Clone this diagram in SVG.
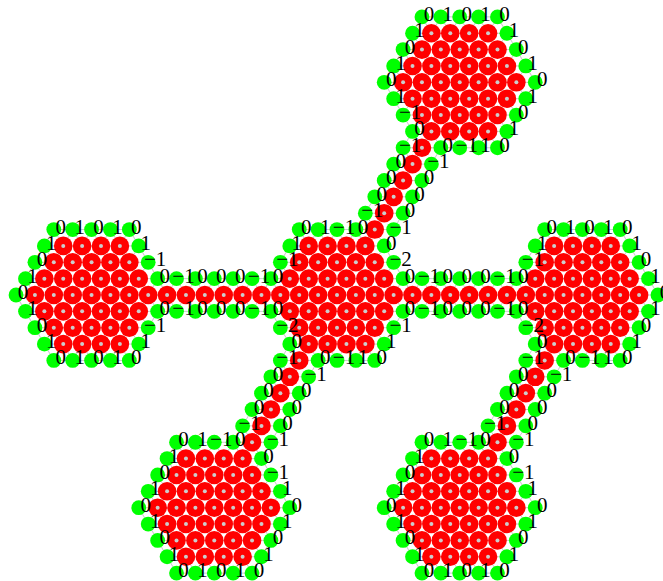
<svg xmlns="http://www.w3.org/2000/svg" width="663" height="581" viewBox="0 0 663 581">
<style>
.b{fill:none;stroke:#ccc;stroke-width:1}
.g{fill:#0f0}
.r{fill:#f00}
.c{fill:#ccc}
text{font-family:"Liberation Serif","Times New Roman",serif;font-size:21px;fill:#000;text-anchor:middle}
</style>
<defs>
<g id="a"><circle class="r" r="9.3"/><circle class="c" r="2"/></g>
<circle id="e" class="g" r="7.4"/>
<path id="hl" class="b" d="M-75.52 0H75.52M-66.08 -16.36H66.08M-66.08 16.36H66.08M-56.64 -32.72H56.64M-56.64 32.72H56.64M-47.2 -49.08H47.2M-47.2 49.08H47.2M-37.76 -65.44H37.76M-37.76 65.44H37.76"/>
<g id="hb"><use href="#hl"/><use href="#hl" transform="rotate(60)"/><use href="#hl" transform="rotate(120)"/></g>
<path id="rhb" class="b" d="M56.64 0H188.8M66.08 -16.36H179.36M66.08 16.36H179.36M66.08 -16.36L75.52 0L84.96 -16.36L94.4 0L103.84 -16.36L113.28 0L122.72 -16.36L132.16 0L141.6 -16.36L151.04 0L160.48 -16.36L169.92 0L179.36 -16.36M66.08 16.36L75.52 0L84.96 16.36L94.4 0L103.84 16.36L113.28 0L122.72 16.36L132.16 0L141.6 16.36L151.04 0L160.48 16.36L169.92 0L179.36 16.36"/>
<path id="rdb" class="b" d="M-28.32 49.08L-94.4 163.56M-47.2 49.08L-103.84 147.24M-18.88 65.44L-75.52 163.56M-56.64 65.44H-18.88M-66.08 81.8H-28.32M-75.52 98.16H-37.76M-84.96 114.52H-47.2M-94.4 130.88H-56.64M-103.84 147.24H-66.08M-56.64 65.44L-47.2 81.8L-37.76 65.44M-66.08 81.8L-56.64 98.16L-47.2 81.8M-75.52 98.16L-66.08 114.52L-56.64 98.16M-84.96 114.52L-75.52 130.88L-66.08 114.52M-94.4 130.88L-84.96 147.24L-75.52 130.88M-103.84 147.24L-94.4 163.56L-84.96 147.24"/>
<g id="reds">
<use href="#a" x="-9.44" y="-49.08"/><use href="#a" x="9.44" y="-49.08"/><use href="#a" x="-28.32" y="-49.08"/><use href="#a" x="28.32" y="-49.08"/>
<use href="#a" x="0" y="-32.72"/><use href="#a" x="-18.88" y="-32.72"/><use href="#a" x="18.88" y="-32.72"/><use href="#a" x="-37.76" y="-32.72"/><use href="#a" x="37.76" y="-32.72"/>
<use href="#a" x="-9.44" y="-16.36"/><use href="#a" x="9.44" y="-16.36"/><use href="#a" x="-28.32" y="-16.36"/><use href="#a" x="28.32" y="-16.36"/><use href="#a" x="-47.2" y="-16.36"/><use href="#a" x="47.2" y="-16.36"/>
<use href="#a" x="0" y="0"/><use href="#a" x="-18.88" y="0"/><use href="#a" x="18.88" y="0"/><use href="#a" x="-37.76" y="0"/><use href="#a" x="37.76" y="0"/><use href="#a" x="-56.64" y="0"/><use href="#a" x="56.64" y="0"/>
<use href="#a" x="-9.44" y="16.36"/><use href="#a" x="9.44" y="16.36"/><use href="#a" x="-28.32" y="16.36"/><use href="#a" x="28.32" y="16.36"/><use href="#a" x="-47.2" y="16.36"/><use href="#a" x="47.2" y="16.36"/>
<use href="#a" x="0" y="32.72"/><use href="#a" x="-18.88" y="32.72"/><use href="#a" x="18.88" y="32.72"/><use href="#a" x="-37.76" y="32.72"/><use href="#a" x="37.76" y="32.72"/>
<use href="#a" x="-9.44" y="49.08"/><use href="#a" x="9.44" y="49.08"/><use href="#a" x="-28.32" y="49.08"/><use href="#a" x="28.32" y="49.08"/>
</g>
<g id="greens">
<use href="#e" x="-37.76" y="-65.44"/><use href="#e" x="-18.88" y="-65.44"/><use href="#e" x="0" y="-65.44"/><use href="#e" x="18.88" y="-65.44"/>
<use href="#e" x="-47.2" y="-49.08"/><use href="#e" x="47.2" y="-49.08"/>
<use href="#e" x="-56.64" y="-32.72"/><use href="#e" x="56.64" y="-32.72"/>
<use href="#e" x="-66.08" y="-16.36"/><use href="#e" x="66.08" y="-16.36"/>
<use href="#e" x="-66.08" y="16.36"/><use href="#e" x="66.08" y="16.36"/>
<use href="#e" x="-56.64" y="32.72"/><use href="#e" x="56.64" y="32.72"/>
<use href="#e" x="-47.2" y="49.08"/><use href="#e" x="47.2" y="49.08"/>
<use href="#e" x="-18.88" y="65.44"/><use href="#e" x="0" y="65.44"/><use href="#e" x="18.88" y="65.44"/><use href="#e" x="37.76" y="65.44"/>
</g>
<g id="rh">
<use href="#a" x="75.52"/><use href="#a" x="94.4"/><use href="#a" x="113.28"/><use href="#a" x="132.16"/><use href="#a" x="151.04"/><use href="#a" x="169.92"/>
<use href="#e" x="84.96" y="-16.36"/><use href="#e" x="103.84" y="-16.36"/><use href="#e" x="122.72" y="-16.36"/><use href="#e" x="141.6" y="-16.36"/><use href="#e" x="160.48" y="-16.36"/>
<use href="#e" x="84.96" y="16.36"/><use href="#e" x="103.84" y="16.36"/><use href="#e" x="122.72" y="16.36"/><use href="#e" x="141.6" y="16.36"/><use href="#e" x="160.48" y="16.36"/>
</g>
<g id="rd">
<use href="#a" x="-37.76" y="65.44"/><use href="#a" x="-47.2" y="81.8"/><use href="#a" x="-56.64" y="98.16"/><use href="#a" x="-66.08" y="114.52"/><use href="#a" x="-75.52" y="130.88"/><use href="#a" x="-84.96" y="147.24"/>
<use href="#e" x="-56.64" y="65.44"/><use href="#e" x="-66.08" y="81.8"/><use href="#e" x="-75.52" y="98.16"/><use href="#e" x="-84.96" y="114.52"/><use href="#e" x="-94.4" y="130.88"/>
<use href="#e" x="-28.32" y="81.8"/><use href="#e" x="-37.76" y="98.16"/><use href="#e" x="-47.2" y="114.52"/><use href="#e" x="-56.64" y="130.88"/><use href="#e" x="-66.08" y="147.24"/>
</g>
</defs>
<rect width="663" height="581" fill="#fff"/>
<g id="connectors">
<use href="#hb" transform="translate(91.56 295)"/>
<use href="#hb" transform="translate(337 295)"/>
<use href="#hb" transform="translate(582.44 295)"/>
<use href="#hb" transform="translate(459.72 82.32)"/>
<use href="#hb" transform="translate(214.28 507.68)"/>
<use href="#hb" transform="translate(459.72 507.68)"/>
<use href="#rhb" transform="translate(91.56 295)"/>
<use href="#rhb" transform="translate(337 295)"/>
<use href="#rdb" transform="translate(459.72 82.32)"/>
<use href="#rdb" transform="translate(337 295)"/>
<use href="#rdb" transform="translate(582.44 295)"/>
</g>
<g id="hex-left" transform="translate(91.56 295)"><use href="#reds"/><use href="#greens"/><use href="#e" x="37.76" y="-65.44"/><use href="#e" x="-37.76" y="65.44"/><use href="#e" x="-75.52"/></g>
<g id="hex-center" transform="translate(337 295)"><use href="#reds"/><use href="#greens"/></g>
<g id="hex-right" transform="translate(582.44 295)"><use href="#reds"/><use href="#greens"/><use href="#e" x="37.76" y="-65.44"/><use href="#e" x="75.52"/></g>
<g id="hex-top" transform="translate(459.72 82.32)"><use href="#reds"/><use href="#greens"/><use href="#e" x="37.76" y="-65.44"/><use href="#e" x="-75.52"/><use href="#e" x="75.52"/></g>
<g id="hex-bottom-left" transform="translate(214.28 507.68)"><use href="#reds"/><use href="#greens"/><use href="#e" x="-37.76" y="65.44"/><use href="#e" x="-75.52"/><use href="#e" x="75.52"/></g>
<g id="hex-bottom-right" transform="translate(459.72 507.68)"><use href="#reds"/><use href="#greens"/><use href="#e" x="-37.76" y="65.44"/><use href="#e" x="-75.52"/><use href="#e" x="75.52"/></g>
<g id="ribbon-left-center" transform="translate(91.56 295)"><use href="#rh"/></g>
<g id="ribbon-center-right" transform="translate(337 295)"><use href="#rh"/></g>
<g id="ribbon-top-center" transform="translate(459.72 82.32)"><use href="#rd"/></g>
<g id="ribbon-center-bl" transform="translate(337 295)"><use href="#rd"/></g>
<g id="ribbon-right-br" transform="translate(582.44 295)"><use href="#rd"/></g>
<g id="labels">
<g transform="translate(98.56 299)">
<text x="-37.76" y="-65.44">0</text><text x="-18.88" y="-65.44">1</text><text x="0" y="-65.44">0</text><text x="18.88" y="-65.44">1</text><text x="37.76" y="-65.44">0</text>
<text x="-47.2" y="-49.08">1</text><text x="47.2" y="-49.08">1</text>
<text x="-56.64" y="-32.72">0</text><text x="56.64" y="-32.72">−1</text>
<text x="-66.08" y="-16.36">1</text>
<text x="-75.52" y="0">0</text>
<text x="-66.08" y="16.36">1</text>
<text x="-56.64" y="32.72">0</text><text x="56.64" y="32.72">−1</text>
<text x="-47.2" y="49.08">1</text><text x="47.2" y="49.08">1</text>
<text x="-37.76" y="65.44">0</text><text x="-18.88" y="65.44">1</text><text x="0" y="65.44">0</text><text x="18.88" y="65.44">1</text><text x="37.76" y="65.44">0</text>
<text x="66.08" y="-16.36">0</text><text x="84.96" y="-16.36">−1</text><text x="103.84" y="-16.36">0</text><text x="122.72" y="-16.36">0</text><text x="141.6" y="-16.36">0</text><text x="160.48" y="-16.36">−1</text><text x="179.36" y="-16.36">0</text>
<text x="66.08" y="16.36">0</text><text x="84.96" y="16.36">−1</text><text x="103.84" y="16.36">0</text><text x="122.72" y="16.36">0</text><text x="141.6" y="16.36">0</text><text x="160.48" y="16.36">−1</text><text x="179.36" y="16.36">0</text>
</g>
<g transform="translate(344 299)">
<text x="-37.76" y="-65.44">0</text><text x="-18.88" y="-65.44">1</text><text x="0" y="-65.44">−1</text><text x="18.88" y="-65.44">0</text>
<text x="-47.2" y="-49.08">1</text><text x="47.2" y="-49.08">0</text>
<text x="-56.64" y="-32.72">−1</text><text x="56.64" y="-32.72">−2</text>
<text x="-56.64" y="32.72">−2</text><text x="56.64" y="32.72">−1</text>
<text x="-47.2" y="49.08">0</text><text x="47.2" y="49.08">1</text>
<text x="-18.88" y="65.44">0</text><text x="0" y="65.44">−1</text><text x="18.88" y="65.44">1</text><text x="37.76" y="65.44">0</text>
<text x="66.08" y="-16.36">0</text><text x="84.96" y="-16.36">−1</text><text x="103.84" y="-16.36">0</text><text x="122.72" y="-16.36">0</text><text x="141.6" y="-16.36">0</text><text x="160.48" y="-16.36">−1</text><text x="179.36" y="-16.36">0</text>
<text x="66.08" y="16.36">0</text><text x="84.96" y="16.36">−1</text><text x="103.84" y="16.36">0</text><text x="122.72" y="16.36">0</text><text x="141.6" y="16.36">0</text><text x="160.48" y="16.36">−1</text><text x="179.36" y="16.36">0</text>
<text x="-56.64" y="65.44">−1</text><text x="-66.08" y="81.8">0</text><text x="-75.52" y="98.16">0</text><text x="-84.96" y="114.52">0</text><text x="-94.4" y="130.88">−1</text>
<text x="-28.32" y="81.8">−1</text><text x="-37.76" y="98.16">0</text><text x="-47.2" y="114.52">0</text><text x="-56.64" y="130.88">0</text><text x="-66.08" y="147.24">−1</text>
</g>
<g transform="translate(589.44 299)">
<text x="-37.76" y="-65.44">0</text><text x="-18.88" y="-65.44">1</text><text x="0" y="-65.44">0</text><text x="18.88" y="-65.44">1</text><text x="37.76" y="-65.44">0</text>
<text x="-47.2" y="-49.08">1</text><text x="47.2" y="-49.08">1</text>
<text x="-56.64" y="-32.72">−1</text><text x="56.64" y="-32.72">0</text>
<text x="66.08" y="-16.36">1</text>
<text x="75.52" y="0">0</text>
<text x="66.08" y="16.36">1</text>
<text x="-56.64" y="32.72">−2</text><text x="56.64" y="32.72">0</text>
<text x="-47.2" y="49.08">0</text><text x="47.2" y="49.08">1</text>
<text x="-18.88" y="65.44">0</text><text x="0" y="65.44">−1</text><text x="18.88" y="65.44">1</text><text x="37.76" y="65.44">0</text>
<text x="-56.64" y="65.44">−1</text><text x="-66.08" y="81.8">0</text><text x="-75.52" y="98.16">0</text><text x="-84.96" y="114.52">0</text><text x="-94.4" y="130.88">−1</text>
<text x="-28.32" y="81.8">−1</text><text x="-37.76" y="98.16">0</text><text x="-47.2" y="114.52">0</text><text x="-56.64" y="130.88">0</text><text x="-66.08" y="147.24">−1</text>
</g>
<g transform="translate(466.72 86.32)">
<text x="-37.76" y="-65.44">0</text><text x="-18.88" y="-65.44">1</text><text x="0" y="-65.44">0</text><text x="18.88" y="-65.44">1</text><text x="37.76" y="-65.44">0</text>
<text x="-47.2" y="-49.08">1</text><text x="47.2" y="-49.08">1</text>
<text x="-56.64" y="-32.72">0</text><text x="56.64" y="-32.72">0</text>
<text x="-66.08" y="-16.36">1</text><text x="66.08" y="-16.36">1</text>
<text x="-75.52" y="0">0</text><text x="75.52" y="0">0</text>
<text x="-66.08" y="16.36">1</text><text x="66.08" y="16.36">1</text>
<text x="-56.64" y="32.72">−1</text><text x="56.64" y="32.72">0</text>
<text x="-47.2" y="49.08">0</text><text x="47.2" y="49.08">1</text>
<text x="-18.88" y="65.44">0</text><text x="0" y="65.44">−1</text><text x="18.88" y="65.44">1</text><text x="37.76" y="65.44">0</text>
<text x="-56.64" y="65.44">−1</text><text x="-66.08" y="81.8">0</text><text x="-75.52" y="98.16">0</text><text x="-84.96" y="114.52">0</text><text x="-94.4" y="130.88">−1</text>
<text x="-28.32" y="81.8">−1</text><text x="-37.76" y="98.16">0</text><text x="-47.2" y="114.52">0</text><text x="-56.64" y="130.88">0</text><text x="-66.08" y="147.24">−1</text>
</g>
<g transform="translate(221.28 511.68)">
<text x="-37.76" y="-65.44">0</text><text x="-18.88" y="-65.44">1</text><text x="0" y="-65.44">−1</text><text x="18.88" y="-65.44">0</text>
<text x="-47.2" y="-49.08">1</text><text x="47.2" y="-49.08">0</text>
<text x="-56.64" y="-32.72">0</text><text x="56.64" y="-32.72">−1</text>
<text x="-66.08" y="-16.36">1</text><text x="66.08" y="-16.36">1</text>
<text x="-75.52" y="0">0</text><text x="75.52" y="0">0</text>
<text x="-66.08" y="16.36">1</text><text x="66.08" y="16.36">1</text>
<text x="-56.64" y="32.72">0</text><text x="56.64" y="32.72">0</text>
<text x="-47.2" y="49.08">1</text><text x="47.2" y="49.08">1</text>
<text x="-37.76" y="65.44">0</text><text x="-18.88" y="65.44">1</text><text x="0" y="65.44">0</text><text x="18.88" y="65.44">1</text><text x="37.76" y="65.44">0</text>
</g>
<g transform="translate(466.72 511.68)">
<text x="-37.76" y="-65.44">0</text><text x="-18.88" y="-65.44">1</text><text x="0" y="-65.44">−1</text><text x="18.88" y="-65.44">0</text>
<text x="-47.2" y="-49.08">1</text><text x="47.2" y="-49.08">0</text>
<text x="-56.64" y="-32.72">0</text><text x="56.64" y="-32.72">−1</text>
<text x="-66.08" y="-16.36">1</text><text x="66.08" y="-16.36">1</text>
<text x="-75.52" y="0">0</text><text x="75.52" y="0">0</text>
<text x="-66.08" y="16.36">1</text><text x="66.08" y="16.36">1</text>
<text x="-56.64" y="32.72">0</text><text x="56.64" y="32.72">0</text>
<text x="-47.2" y="49.08">1</text><text x="47.2" y="49.08">1</text>
<text x="-37.76" y="65.44">0</text><text x="-18.88" y="65.44">1</text><text x="0" y="65.44">0</text><text x="18.88" y="65.44">1</text><text x="37.76" y="65.44">0</text>
</g>
</g>
</svg>
